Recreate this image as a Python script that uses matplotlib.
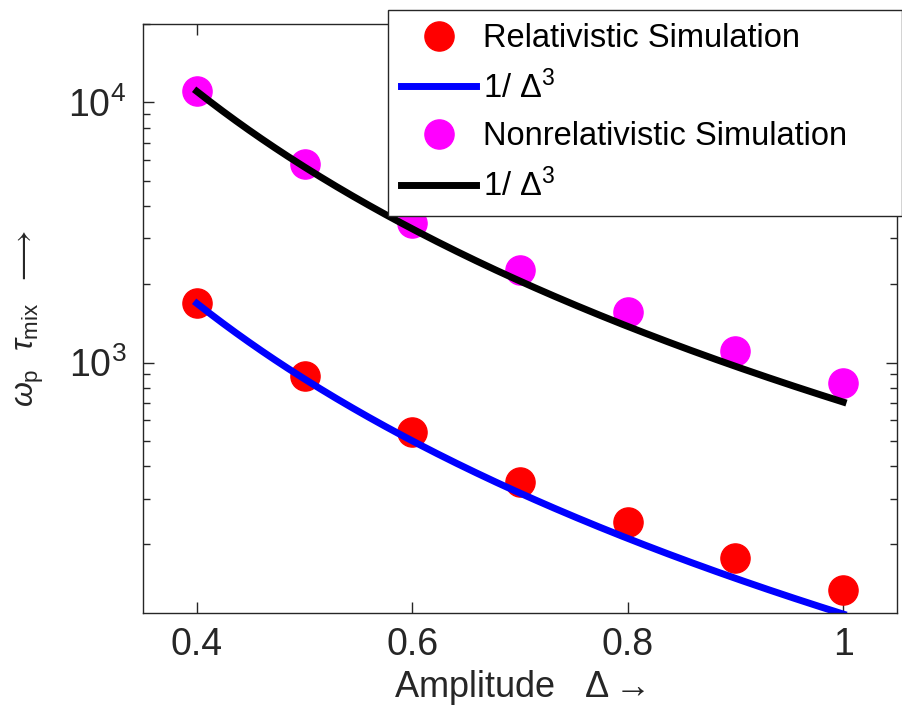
import numpy as np
import matplotlib
matplotlib.use("Agg")
import matplotlib.pyplot as plt

plt.rcParams["font.family"] = ["Liberation Sans", "DejaVu Sans"]
plt.rcParams["mathtext.fontset"] = "custom"
plt.rcParams["mathtext.rm"] = "Liberation Sans"
plt.rcParams["mathtext.it"] = "Liberation Sans:italic"
plt.rcParams["mathtext.bf"] = "Liberation Sans:bold"

# amplitude values used in the runs
delta = [0.4, 0.5, 0.6, 0.7, 0.8, 0.9, 1.0]
# mixing time from the relativistic and nonrelativistic simulations
tau_rel = [1690, 890, 540, 348, 244, 178, 134]
tau_nonrel = [11100, 5780, 3430, 2260, 1560, 1110, 837]
# prefactors C of the C / delta^3 fits
fit_rel = 108
fit_nonrel = 705

axis_col = "#262626"

fig = plt.figure(figsize=(9.02, 7.17), dpi=100)
ax = fig.add_axes([143 / 902, 1 - 613 / 717, (897 - 143) / 902, (613 - 24) / 717])

d_fine = np.linspace(0.4, 1.0, 200)

ax.plot(delta, tau_rel, "o", color="#ff0000", markersize=21, label="Relativistic Simulation")
ax.plot(d_fine, fit_rel / d_fine ** 3, "-", color="#0000ff", linewidth=5, label=r"1/ $\Delta^3$")
ax.plot(delta, tau_nonrel, "o", color="#ff00ff", markersize=21, label="Nonrelativistic Simulation")
ax.plot(d_fine, fit_nonrel / d_fine ** 3, "-", color="black", linewidth=5, label=r"1/ $\Delta^3$")

ax.set_yscale("log")
ax.set_xlim(0.35, 1.05)
ax.set_ylim(109, 2.0e4)
ax.set_xticks([0.4, 0.6, 0.8, 1.0])
ax.set_xticklabels(["0.4", "0.6", "0.8", "1"])

ax.tick_params(which="both", direction="in", top=True, right=True, color=axis_col,
               labelcolor=axis_col, width=1.0)
ax.tick_params(which="major", length=8, labelsize=27)
ax.tick_params(which="minor", length=5)
ax.tick_params(axis="x", pad=10)
ax.tick_params(axis="y", pad=12)
for s in ax.spines.values():
    s.set_color(axis_col)
    s.set_linewidth(1.0)

ax.set_xlabel(r"Amplitude   $\Delta \rightarrow$", fontsize=26, color=axis_col, labelpad=4)
ax.set_ylabel(r"$\omega_{\rm p}\ \ \tau_{\rm mix}\ \ \longrightarrow$", fontsize=23,
              color=axis_col, labelpad=16)

# legend box sits over the top right corner and runs to the figure edge
leg = ax.legend(loc="upper left", bbox_to_anchor=(388 / 902, 0, 514 / 902, 1 - 10 / 717),
                bbox_transform=fig.transFigure, mode="expand", borderaxespad=0,
                fontsize=23.5, numpoints=1, handlelength=2.3, handletextpad=0.2,
                labelspacing=0.5, borderpad=0.4, fancybox=False, framealpha=1,
                edgecolor=axis_col)
leg.get_frame().set_linewidth(1.0)

fig.savefig("out.png", dpi=100)
